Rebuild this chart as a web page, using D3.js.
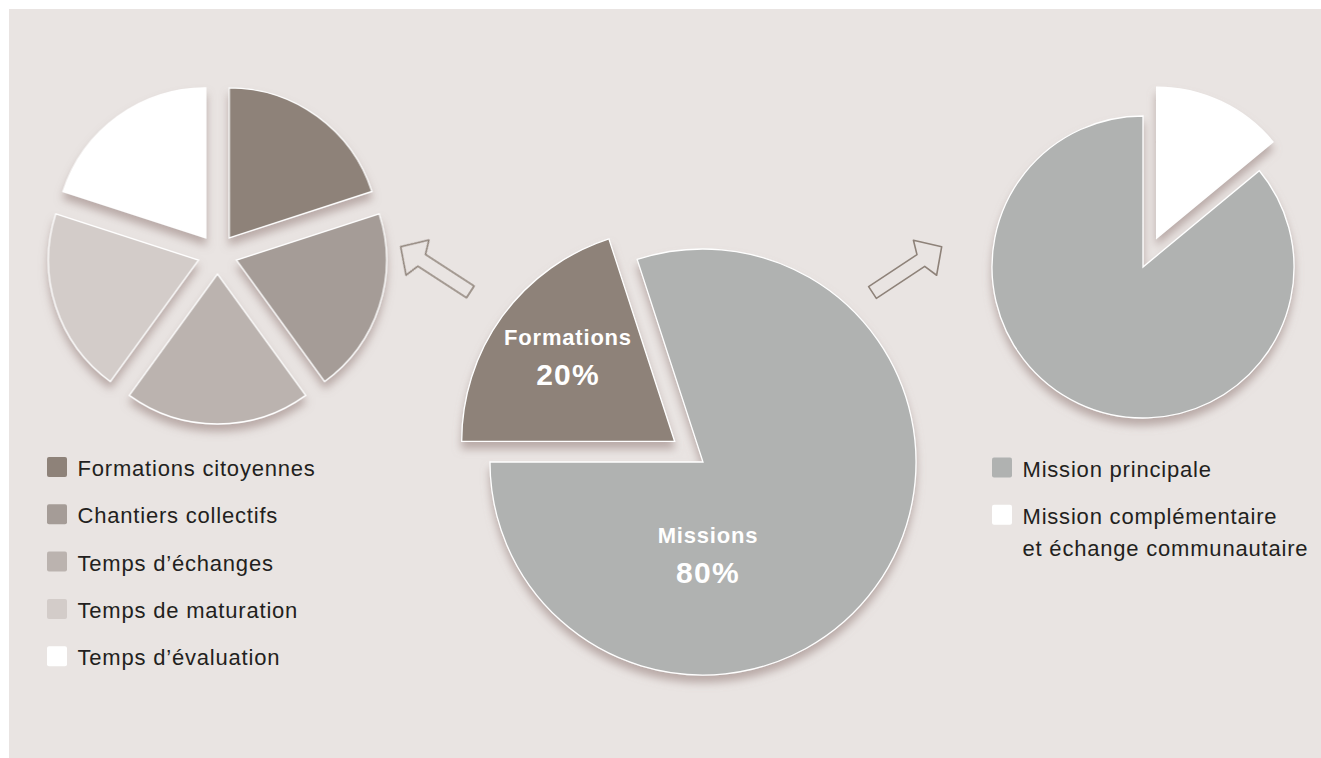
<!DOCTYPE html>
<html>
<head>
<meta charset="utf-8">
<script src="https://cdn.jsdelivr.net/npm/d3@7"></script>
<style>
  body { margin: 0; background: #fff; }
  svg { display: block; font-family: "Liberation Sans", Arial, Helvetica, sans-serif; }
</style>
</head>
<body>
<div id="chart"></div>
<script>
// left pie : detail of the "Formations" part
var leftCategories = ["Formations citoyennes", "Chantiers collectifs", "Temps d\u2019\u00e9changes", "Temps de maturation", "Temps d\u2019\u00e9valuation"];
var leftValues = [20, 20, 20, 20, 20];
var leftColors = ["#8e8279", "#a59c97", "#bbb3af", "#d3ccc9", "#ffffff"];

// center pie
var centerCategories = ["Formations", "Missions"];
var centerValues = [20, 80];
var centerColors = ["#8e8279", "#b0b2b1"];

// right pie : detail of the "Missions" part
var rightCategories = ["Mission principale", "Mission compl\u00e9mentaire\net \u00e9change communautaire"];
var rightValues = [86, 14];
var rightColors = ["#b0b2b1", "#ffffff"];

var width = 1321, height = 758;

var svg = d3.select('#chart').append('svg')
  .attr('width', width)
  .attr('height', height);

var defs = svg.append('defs');
defs.append('filter')
  .attr('id', 'shadow')
  .attr('x', '-20%').attr('y', '-20%')
  .attr('width', '140%').attr('height', '140%')
  .append('feDropShadow')
  .attr('dx', 0)
  .attr('dy', 7)
  .attr('stdDeviation', 4.5)
  .attr('flood-color', '#9a8480')
  .attr('flood-opacity', 0.6);

svg.append('rect')
  .attr('x', 9).attr('y', 9)
  .attr('width', width - 9).attr('height', height - 9)
  .style('fill', '#e9e4e2');

// draws a pie; explode(d) gives how far a slice is pulled out
function drawPie(cx, cy, r, values, colors, startAngle, explode) {
  var pie = d3.pie().sort(null)
    .startAngle(startAngle)
    .endAngle(startAngle + Math.PI * 2);
  var arc = d3.arc().innerRadius(0).outerRadius(r);
  var arcs = pie(values);

  var g = svg.append('g')
    .attr('transform', 'translate(' + cx + ',' + cy + ')')
    .attr('filter', 'url(#shadow)');

  g.selectAll('path')
    .data(arcs)
    .enter().append('path')
    .attr('transform', function(d) {
      var a = (d.startAngle + d.endAngle) / 2, e = explode(d);
      return 'translate(' + (Math.sin(a) * e) + ',' + (-Math.cos(a) * e) + ')';
    })
    .attr('d', arc)
    .style('fill', function(d, i) { return colors[i]; })
    .style('stroke', '#fff')
    .style('stroke-width', 1.3)
    .style('stroke-linejoin', 'miter');

  return arcs;
}

drawPie(217.5, 254, 150, leftValues, leftColors, 0, function() { return 20; });

var centerArcs = drawPie(703, 462, 213, centerValues, centerColors, -Math.PI / 2, function(d) {
  return d.index === 0 ? 35 : 0;
});

drawPie(1143, 267, 151, rightValues, rightColors, Math.PI * 2 * rightValues[1] / 100, function(d) {
  return d.index === 1 ? 32 : 0;
});

// labels in the center pie (angle in degrees from north, distance from slice tip)
var labelPolar = [[-47.8, 144], [176.5, 81]];
var labelG = svg.append('g');
centerArcs.forEach(function(d, i) {
  var a = (d.startAngle + d.endAngle) / 2, e = i === 0 ? 35 : 0;
  var tipX = 703 + Math.sin(a) * e, tipY = 462 - Math.cos(a) * e;
  var la = labelPolar[i][0] * Math.PI / 180, lr = labelPolar[i][1];
  var x = tipX + Math.sin(la) * lr, y = tipY - Math.cos(la) * lr;
  labelG.append('text')
    .attr('x', x).attr('y', y)
    .attr('text-anchor', 'middle')
    .style('fill', '#fff')
    .style('font-weight', 'bold')
    .style('font-size', '22px')
    .style('letter-spacing', '0.8px')
    .text(centerCategories[i]);
  labelG.append('text')
    .attr('x', x).attr('y', y + 40)
    .attr('text-anchor', 'middle')
    .style('fill', '#fff')
    .style('font-weight', 'bold')
    .style('font-size', '30px')
    .style('letter-spacing', '1.2px')
    .text(d3.format('d')(d.value) + '%');
});

// outline arrows, tip at origin, pointing toward -x
var arrowShape = [[0, 0], [20, -21], [25, -7], [83, -7], [83, 7], [25, 7], [20, 21]];
var arrowLine = d3.line().curve(d3.curveLinearClosed);
[[400.7, 246.7, 33], [941.7, 246.7, 146.5]].forEach(function(a) {
  svg.append('path')
    .attr('transform', 'translate(' + a[0] + ',' + a[1] + ') rotate(' + a[2] + ')')
    .attr('d', arrowLine(arrowShape))
    .style('fill', 'none')
    .style('stroke', '#8e8279')
    .style('stroke-width', 1.6)
    .style('stroke-linejoin', 'round');
});

// legends
function drawLegend(x, y, names, colors) {
  var g = svg.append('g').attr('transform', 'translate(' + x + ',' + y + ')');
  var item = g.selectAll('g')
    .data(names)
    .enter().append('g')
    .attr('transform', function(d, i) { return 'translate(0,' + (i * 47.3) + ')'; });
  item.append('rect')
    .attr('width', 20).attr('height', 20)
    .attr('rx', 2)
    .style('fill', function(d, i) { return colors[i]; });
  item.append('text')
    .attr('x', 30.5)
    .attr('y', 19)
    .style('font-size', '22px')
    .style('letter-spacing', '0.8px')
    .style('fill', '#231f20')
    .selectAll('tspan')
    .data(function(d) { return d.split('\n'); })
    .enter().append('tspan')
    .attr('x', 30.5)
    .attr('dy', function(d, i) { return i ? 32 : 0; })
    .text(function(d) { return d; });
}

drawLegend(47, 457, leftCategories, leftColors);
drawLegend(992, 457.5, rightCategories, rightColors);
</script>
</body>
</html>
